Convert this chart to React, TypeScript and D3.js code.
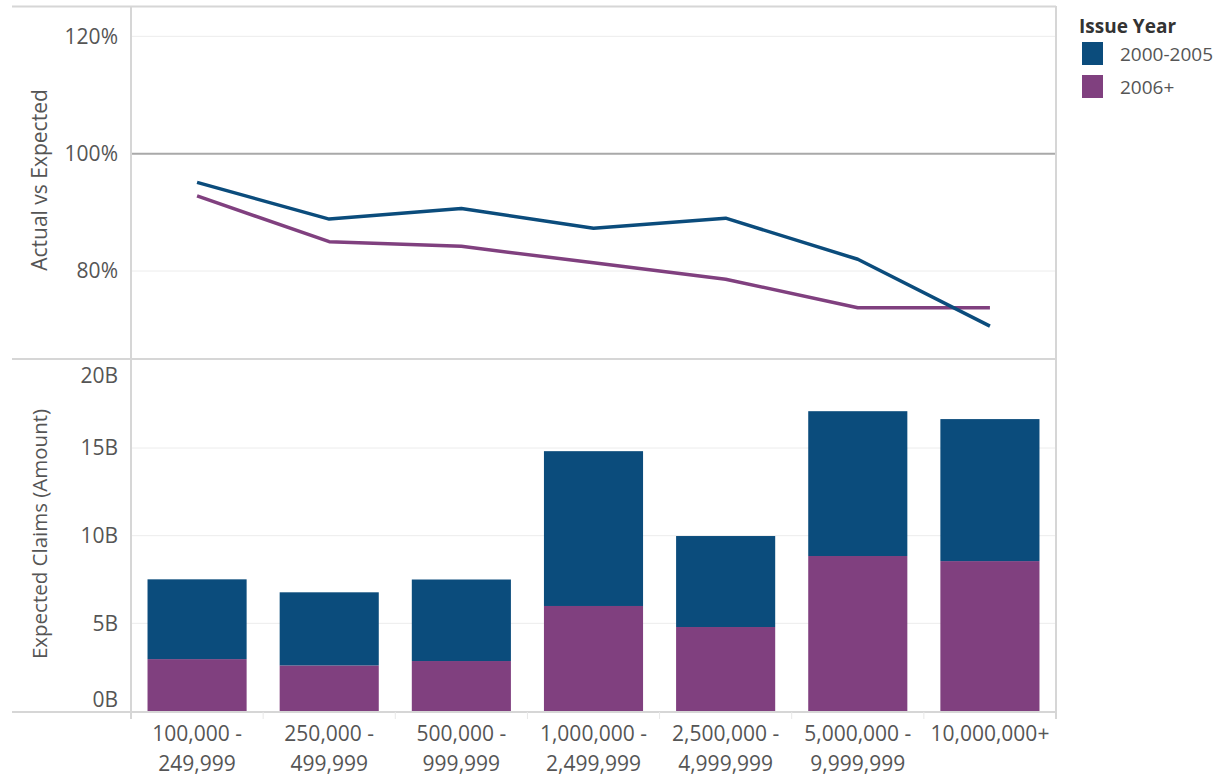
import React from "react";
import * as d3 from "d3";

const categories = [
  ["100,000 -", "249,999"],
  ["250,000 -", "499,999"],
  ["500,000 -", "999,999"],
  ["1,000,000 -", "2,499,999"],
  ["2,500,000 -", "4,999,999"],
  ["5,000,000 -", "9,999,999"],
  ["10,000,000+", ""],
];
const seriesNames = ["2000-2005", "2006+"];
const aveOld = [95.1, 88.85, 90.65, 87.3, 89.0, 82.0, 70.6];
const aveNew = [92.8, 85.0, 84.2, 81.4, 78.6, 73.75, 73.75];
const claimsNew = [2.96, 2.6, 2.85, 5.99, 4.79, 8.84, 8.55];
const claimsTotal = [7.51, 6.77, 7.5, 14.82, 9.98, 17.1, 16.65];
const pctTicks = [80, 100, 120];
const claimTicks = [0, 5, 10, 15, 20];

const COLORS = ["#0b4c7c", "#80407f"];
const FONT = "'Open Sans', sans-serif";
const TXT = "#555";

export default function App() {
  const W = 1225, H = 776;
  const left = 131, right = 1056;
  const topY0 = 7, topY1 = 359, botY0 = 360, botY1 = 711;
  const keys = categories.map((c, i) => String(i));
  const x = d3.scaleBand().domain(keys).range([left, right]).paddingInner(0.25).paddingOuter(0.125);
  const xs = d3.scaleBand().domain(keys).range([left, right]).padding(0);
  const yTop = d3.scaleLinear().domain([65, 125]).range([topY1, topY0]);
  const yBot = d3.scaleLinear().domain([0, 20.02]).range([botY1, botY0]);
  const cx = (i: number) => (xs(String(i)) as number) + xs.bandwidth() / 2;
  const line = d3.line<number>().x((_, i) => cx(i)).y((d) => yTop(d));
  const claimsOld = claimsTotal.map((t, i) => t - claimsNew[i]);
  const stackData = categories.map((_, i) => ({ k: String(i), a: claimsNew[i], b: claimsOld[i] }));
  const stack = d3.stack<any>().keys(["a", "b"])(stackData);
  const grid = "#ececec";
  const border = "#d6d6d6";
  return (
    <svg width={W} height={H} style={{ position: "absolute", left: 0, top: 0, background: "#fff" }} fontFamily={FONT}>
      {pctTicks.filter((t) => t !== 100).map((t) => (
        <line key={"gt" + t} x1={left} x2={right} y1={yTop(t)} y2={yTop(t)} stroke={grid} strokeWidth={1} />
      ))}
      {claimTicks.filter((t) => t > 0 && t < 20).map((t) => (
        <line key={"gb" + t} x1={left} x2={right} y1={yBot(t)} y2={yBot(t)} stroke={grid} strokeWidth={1} />
      ))}
      <line x1={left} x2={right} y1={yTop(100)} y2={yTop(100)} stroke="#a9a9a9" strokeWidth={2} />
      {stack.map((s, si) =>
        s.map((d: any, i: number) => (
          <rect key={si + "-" + i} x={x(String(i))} width={x.bandwidth()} y={yBot(d[1])} height={yBot(d[0]) - yBot(d[1])} fill={COLORS[1 - si]} />
        ))
      )}
      <path d={line(aveNew) || ""} fill="none" stroke={COLORS[1]} strokeWidth={3.5} strokeLinejoin="round" />
      <path d={line(aveOld) || ""} fill="none" stroke={COLORS[0]} strokeWidth={3.5} strokeLinejoin="round" />
      <line x1={12} x2={right} y1={topY0 - 0.5} y2={topY0 - 0.5} stroke={border} strokeWidth={2} />
      <line x1={12} x2={right} y1={topY1} y2={topY1} stroke={border} strokeWidth={2} />
      <line x1={12} x2={right} y1={botY1 + 1} y2={botY1 + 1} stroke={border} strokeWidth={2} />
      <line x1={left} x2={left} y1={topY0 - 1} y2={botY1 + 8} stroke={border} strokeWidth={2} />
      <line x1={right} x2={right} y1={topY0 - 1} y2={botY1 + 8} stroke={border} strokeWidth={2} />
      {categories.map((_, i) =>
        i > 0 ? <line key={"tk" + i} x1={xs(String(i))} x2={xs(String(i))} y1={botY1 + 1} y2={botY1 + 8} stroke="#e8e8e8" strokeWidth={1} /> : null
      )}
      {pctTicks.map((t) => (
        <text key={"pl" + t} x={118} y={yTop(t)} dy="0.35em" textAnchor="end" fontSize={21} fill={TXT}>{t}%</text>
      ))}
      {claimTicks.map((t) => (
        <text key={"cl" + t} x={118} y={t === 20 ? yBot(t) + 15 : t === 0 ? yBot(t) - 11 : yBot(t)} dy="0.35em" textAnchor="end" fontSize={21} fill={TXT}>{t}B</text>
      ))}
      <text transform={`translate(40,180) rotate(-90)`} textAnchor="middle" dy="0.35em" fontSize={21} fill={TXT}>Actual vs Expected</text>
      <text transform={`translate(40,534) rotate(-90)`} textAnchor="middle" dy="0.35em" fontSize={20.5} fill={TXT}>Expected Claims (Amount)</text>
      {categories.map((c, i) => (
        <text key={"xl" + i} x={cx(i)} textAnchor="middle" fontSize={21} fill={TXT}>
          <tspan x={cx(i)} y={741}>{c[0]}</tspan>
          {c[1] ? <tspan x={cx(i)} y={771}>{c[1]}</tspan> : null}
        </text>
      ))}
      <text x={1079} y={33} fontSize={19} fontWeight="bold" fill="#333">Issue Year</text>
      {seriesNames.map((n, i) => (
        <g key={n}>
          <rect x={1082} y={42 + i * 33} width={21} height={23} fill={COLORS[i]} />
          <text x={1120} y={54 + i * 33} dy="0.35em" fontSize={19} fill={TXT}>{n}</text>
        </g>
      ))}
    </svg>
  );
}
